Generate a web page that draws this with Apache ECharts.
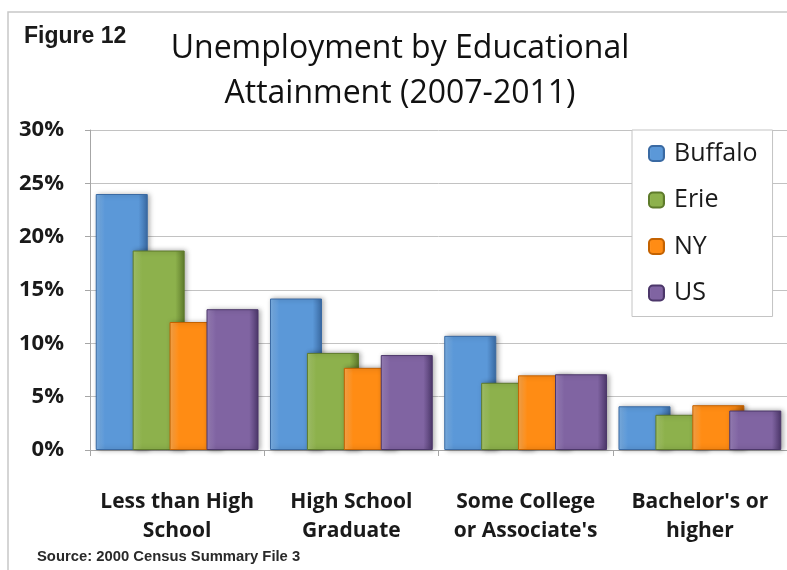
<!DOCTYPE html>
<html>
<head>
<meta charset="utf-8">
<script src="https://cdn.jsdelivr.net/npm/echarts@6/dist/echarts.min.js"></script>
<style>
  html, body { margin: 0; padding: 0; background: #ffffff; }
  #chart { width: 787px; height: 570px; }
</style>
</head>
<body>
<div id="chart"></div>
<script>
// Unemployment rate (%) by educational attainment, 2007-2011
const categories = [
  'Less than High\nSchool',
  'High School\nGraduate',
  'Some College\nor Associate\'s',
  'Bachelor\'s or\nhigher'
];
const seriesNames = ['Buffalo', 'Erie', 'NY', 'US'];
const buffalo = [24.0, 14.2, 10.7, 4.1];
const erie    = [18.7, 9.1, 6.3, 3.3];
const ny      = [12.0, 7.7, 7.0, 4.2];
const us      = [13.2, 8.9, 7.1, 3.7];
const yTicks  = [0, 5, 10, 15, 20, 25, 30];

const seriesValues = [buffalo, erie, ny, us];

// light / base / dark shades for each series, used for a rounded column look
const palette = [
  ['#7fb3e8', '#5b98d8', '#3a6aa3'],
  ['#a9c96e', '#8db14c', '#5e7b2b'],
  ['#ffaa4d', '#ff8c14', '#c46200'],
  ['#9d84bd', '#8064a2', '#4c376a']
];

function shade(p) {
  return new echarts.graphic.LinearGradient(0, 0, 1, 0, [
    { offset: 0, color: p[0] },
    { offset: 0.18, color: p[1] },
    { offset: 0.82, color: p[1] },
    { offset: 1, color: p[2] }
  ]);
}

const chart = echarts.init(document.getElementById('chart'), null, { renderer: 'canvas' });

const textColor = '#1a1a1a';

chart.setOption({
  backgroundColor: '#ffffff',
  animation: false,
  title: [
    {
      text: 'Figure 12',
      left: 24,
      top: 25,
      padding: 0,
      textStyle: {
        fontFamily: 'Liberation Sans, Arial, sans-serif',
        fontWeight: 'bold',
        fontSize: 23,
        color: textColor
      }
    },
    {
      text: 'Unemployment by Educational\nAttainment (2007-2011)',
      left: 400,
      top: 26,
      padding: 0,
      textAlign: 'center',
      textStyle: {
        fontFamily: 'Open Sans, sans-serif',
        fontWeight: 'normal',
        fontSize: 32,
        lineHeight: 45,
        color: '#111111'
      }
    },
    {
      text: 'Source: 2000 Census Summary File 3',
      left: 37,
      top: 549,
      padding: 0,
      textStyle: {
        fontFamily: 'Liberation Sans, Arial, sans-serif',
        fontWeight: 'bold',
        fontSize: 14.8,
        color: '#2a2a2a'
      }
    }
  ],
  legend: {
    orient: 'vertical',
    left: 632,
    top: 130,
    padding: [11, 15, 11, 16],
    itemGap: 21.5,
    itemWidth: 15,
    itemHeight: 15,
    backgroundColor: '#ffffff',
    borderColor: '#c4c4c4',
    borderWidth: 1,
    borderRadius: 0,
    data: seriesNames,
    textStyle: {
      fontFamily: 'Open Sans, sans-serif',
      fontSize: 25,
      lineHeight: 24,
      color: textColor,
      padding: [0, 0, 0, 5]
    }
  },
  graphic: [
    {
      type: 'rect',
      silent: true,
      z: -1,
      shape: { x: 8, y: 12, width: 820, height: 620 },
      style: { fill: 'none', stroke: '#c8c8c8', lineWidth: 1.5 }
    }
  ],
  grid: {
    left: 90,
    top: 130,
    width: 704,
    bottom: 120,
    containLabel: false
  },
  xAxis: {
    type: 'category',
    data: categories,
    axisLine: { show: true, lineStyle: { color: '#a6a6a6', width: 1 } },
    axisTick: { show: true, length: 6, lineStyle: { color: '#a6a6a6' } },
    axisLabel: {
      margin: 38,
      interval: 0,
      fontFamily: 'Open Sans, sans-serif',
      fontWeight: 'bold',
      fontSize: 21,
      lineHeight: 29,
      color: textColor
    }
  },
  yAxis: {
    type: 'value',
    min: yTicks[0],
    max: yTicks[yTicks.length - 1],
    interval: yTicks[1] - yTicks[0],
    axisLine: { show: true, lineStyle: { color: '#a6a6a6', width: 1 } },
    axisTick: { show: true, length: 5, lineStyle: { color: '#a6a6a6' } },
    splitLine: { show: true, lineStyle: { color: '#c2c2c2', width: 1 } },
    axisLabel: {
      margin: 26,
      formatter: '{value}%',
      fontFamily: 'Open Sans, sans-serif',
      fontWeight: 'bold',
      fontSize: 22,
      color: textColor
    }
  },
  series: seriesNames.map(function (name, i) {
    return {
      name: name,
      type: 'bar',
      data: seriesValues[i],
      barWidth: 52,
      barGap: '-29%',
      itemStyle: {
        color: shade(palette[i]),
        borderColor: palette[i][2],
        borderWidth: 1,
        shadowColor: 'rgba(0,0,0,0.35)',
        shadowBlur: 5,
        shadowOffsetX: 2,
        shadowOffsetY: 0
      },
      emphasis: { disabled: true }
    };
  })
});
</script>
</body>
</html>
